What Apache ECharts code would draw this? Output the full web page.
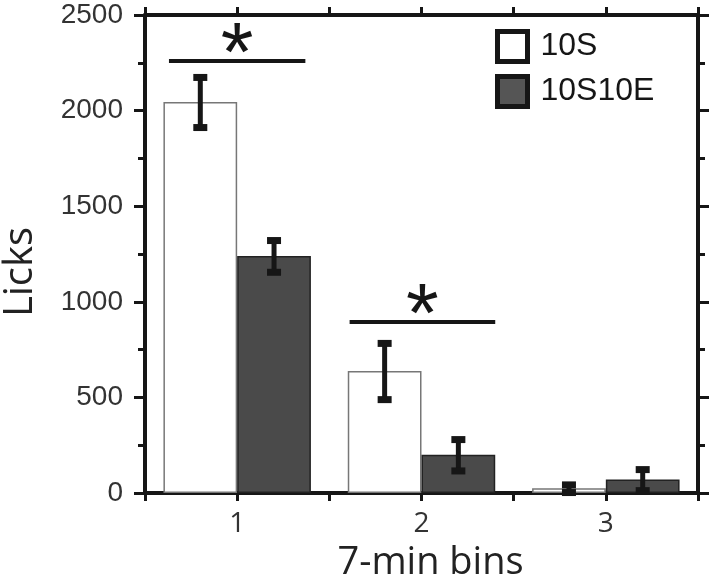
<!DOCTYPE html>
<html>
<head>
<meta charset="utf-8">
<script src="https://cdn.jsdelivr.net/npm/echarts@6/dist/echarts.min.js"></script>
<style>
  html, body { margin: 0; padding: 0; background: #fff; }
  #chart { width: 714px; height: 581px; }
</style>
</head>
<body>
<div id="chart"></div>
<script>
// bins and tick labels
var categories = ['1', '2', '3']
var yTicks = [0, 500, 1000, 1500, 2000, 2500]

// mean licks per bin
var s10S = [2045, 638, 25]
var s10SErr = [131, 147, 20]
var s10S10E = [1240, 200, 70]
var s10S10EErr = [83, 82, 55]

// significance bars (from bin, to bin, height)
var sigFrom = [0.63, 1.61]
var sigTo = [1.37, 2.40]
var sigY = [2260, 895]

var INK = '#161616'

function errData(vals, errs, off) {
  return vals.map(function(v, i) {
    return [i + 1 + off, v - errs[i], v + errs[i]]
  })
}

function renderErr(params, api) {
  var top = api.coord([api.value(0), api.value(2)])
  var bot = api.coord([api.value(0), Math.max(api.value(1), 0)])
  var capW = 14
  return {
    type: 'group',
    children: [
      { type: 'line', shape: { x1: top[0], y1: top[1], x2: bot[0], y2: bot[1] },
        style: { stroke: INK, lineWidth: 5 } },
      { type: 'rect', shape: { x: top[0] - capW / 2, y: top[1] - 3, width: capW, height: 7 },
        style: { fill: INK } },
      { type: 'rect', shape: { x: bot[0] - capW / 2, y: bot[1] - 3, width: capW, height: 7 },
        style: { fill: INK } }
    ]
  }
}

var sigData = sigFrom.map(function(f, i) { return [f, sigTo[i], sigY[i]] })

function renderSig(params, api) {
  var a = api.coord([api.value(0), api.value(2)])
  var b = api.coord([api.value(1), api.value(2)])
  var cx = (a[0] + b[0]) / 2
  return {
    type: 'group',
    children: [
      { type: 'line', shape: { x1: a[0], y1: a[1], x2: b[0], y2: b[1] },
        style: { stroke: INK, lineWidth: 4 } },
      { type: 'text', x: cx, y: a[1] - 3,
        style: { text: '*', fill: INK, fontSize: 84, fontFamily: 'Liberation Sans',
          align: 'center', verticalAlign: 'middle' } }
    ]
  }
}

var axisLine = { show: true, onZero: false, lineStyle: { color: INK, width: 4 } }

var chart = echarts.init(document.getElementById('chart'))
chart.setOption({
  animation: false,
  grid: { left: 145, right: 16, top: 15, bottom: 88, outerBoundsMode: 'none' },
  legend: {
    orient: 'vertical',
    left: 495,
    top: 29,
    padding: 0,
    itemWidth: 30,
    itemHeight: 30,
    itemGap: 10,
    icon: 'rect',
    textStyle: { fontSize: 32, color: INK, fontFamily: 'Liberation Sans', padding: [0, 0, 0, 8] },
    data: [
      { name: '10S', itemStyle: { color: '#fff', borderColor: INK, borderWidth: 5 } },
      { name: '10S10E', itemStyle: { color: '#555', borderColor: INK, borderWidth: 5 } }
    ]
  },
  xAxis: [
    {
      type: 'value', position: 'bottom', min: 0.5, max: 3.5, interval: 0.5,
      name: '7-min bins', nameLocation: 'middle', nameGap: 51,
      nameTextStyle: { fontSize: 38, color: '#222', fontFamily: 'Open Sans', padding: [0, 0, 0, 18] },
      axisLine: axisLine,
      axisTick: { show: true, length: 8, lineStyle: { color: INK, width: 3 } },
      axisLabel: {
        margin: 17, fontSize: 28, color: '#333', fontFamily: 'Open Sans',
        formatter: function(v) { return Math.abs(v - Math.round(v)) < 1e-6 ? categories[Math.round(v) - 1] : '' }
      },
      splitLine: { show: false }
    },
    {
      type: 'value', position: 'top', min: 0.5, max: 3.5, interval: 0.5,
      axisLine: axisLine,
      axisTick: { show: true, length: 8, lineStyle: { color: INK, width: 3 } },
      axisLabel: { show: false },
      splitLine: { show: false }
    },
    {
      type: 'category', data: categories, show: false
    }
  ],
  yAxis: [
    {
      type: 'value', position: 'left', min: 0, max: 2500, interval: 500,
      name: 'Licks', nameLocation: 'middle', nameGap: 104,
      nameTextStyle: { fontSize: 40, color: '#222', fontFamily: 'Open Sans', padding: [0, 36, 0, 0] },
      axisLine: axisLine,
      axisTick: { show: true, length: 11, lineStyle: { color: INK, width: 3 } },
      minorTick: { show: true, splitNumber: 2, length: 7, lineStyle: { color: INK, width: 3 } },
      axisLabel: {
        margin: 22, fontSize: 28, color: '#333', fontFamily: 'Liberation Sans',
        formatter: function(v) { return yTicks.indexOf(v) >= 0 ? String(v) : '' }
      },
      splitLine: { show: false }
    },
    {
      type: 'value', position: 'right', min: 0, max: 2500, interval: 500,
      axisLine: axisLine,
      axisTick: { show: true, length: 11, lineStyle: { color: INK, width: 3 } },
      minorTick: { show: true, splitNumber: 2, length: 7, lineStyle: { color: INK, width: 3 } },
      axisLabel: { show: false },
      splitLine: { show: false }
    }
  ],
  series: [
    {
      name: '10S', type: 'bar', xAxisIndex: 2, yAxisIndex: 0,
      data: s10S, barWidth: '40%', barGap: '0%',
      itemStyle: { color: '#fff', borderColor: '#777', borderWidth: 1.5 }
    },
    {
      name: '10S10E', type: 'bar', xAxisIndex: 2, yAxisIndex: 0,
      data: s10S10E, barWidth: '40%', barGap: '0%',
      itemStyle: { color: '#4a4a4a', borderColor: '#222', borderWidth: 1.5 }
    },
    {
      type: 'custom', xAxisIndex: 0, yAxisIndex: 0, z: 5,
      data: errData(s10S, s10SErr, -0.2), renderItem: renderErr
    },
    {
      type: 'custom', xAxisIndex: 0, yAxisIndex: 0, z: 5,
      data: errData(s10S10E, s10S10EErr, 0.2), renderItem: renderErr
    },
    {
      type: 'custom', xAxisIndex: 0, yAxisIndex: 0, z: 5,
      data: sigData, renderItem: renderSig
    }
  ]
})
</script>
</body>
</html>
